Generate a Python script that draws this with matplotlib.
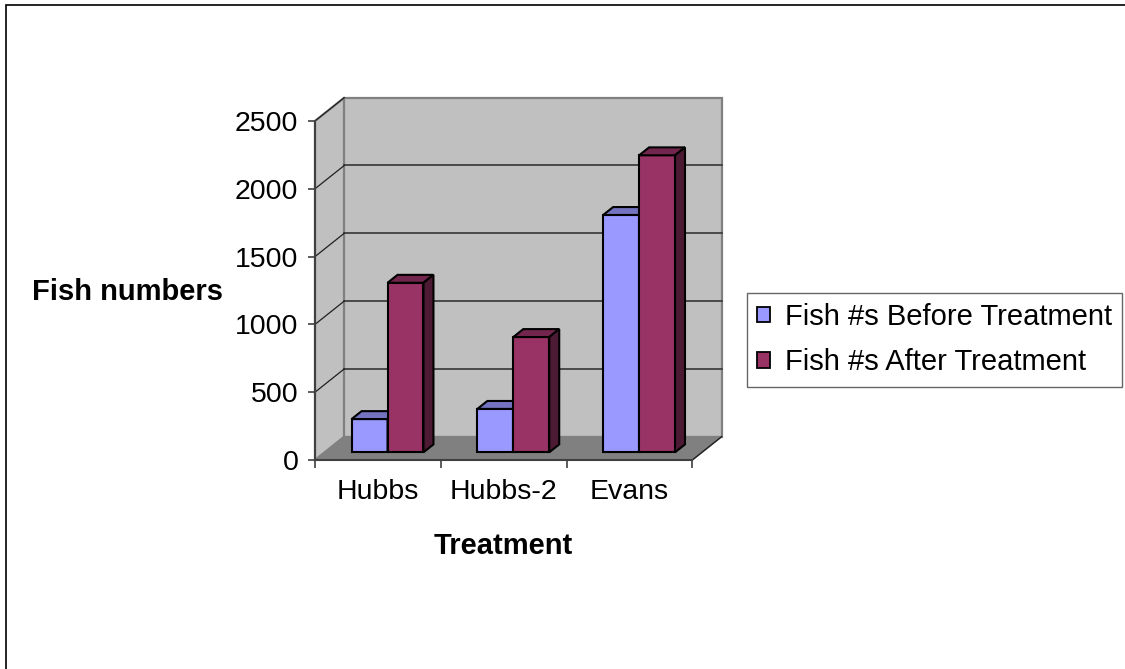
import numpy as np
import matplotlib.pyplot as plt
from matplotlib.patches import Polygon, Patch, Rectangle

plt.rcParams['font.family'] = ['Liberation Sans', 'DejaVu Sans']

# data
treatments = ['Hubbs', 'Hubbs-2', 'Evans']
before = [245, 320, 1750]
after = [1250, 850, 2190]
series_names = ['Fish #s Before Treatment', 'Fish #s After Treatment']
y_ticks = [0, 500, 1000, 1500, 2000, 2500]

# face colours: front, top, side
front_cols = ['#9999FF', '#993366']
top_cols = ['#7373BF', '#73264D']
side_cols = ['#4D4D80', '#4D1A33']

# oblique depth vector in data units (x in categories, y in values)
DX, DY = 0.233, 172.0
d0, d1 = 0.33, 0.67          # bar front/back as fraction of floor depth
bar_w = 1 / 3.5              # gap width 150%
ymax = 2500
ncat = len(treatments)
fs = 20.5

fig = plt.figure(figsize=(11.25, 6.69), dpi=100)
ax = fig.add_axes([0.2241, 0.2516, 0.4472, 0.6284])
ax.set_xlim(-0.5, 3.5)
ax.set_ylim(-300, 2800)
ax.patch.set_visible(False)

def poly(pts, fc, ec='black', lw=1.5, z=1):
    ax.add_patch(Polygon(pts, closed=True, facecolor=fc, edgecolor=ec,
                         linewidth=lw, zorder=z, joinstyle='miter'))

# walls and floor
poly([(0, 0), (DX, DY), (DX, ymax + DY), (0, ymax)], '#C0C0C0', '#808080', 1.6)
poly([(DX, DY), (ncat + DX, DY), (ncat + DX, ymax + DY), (DX, ymax + DY)],
     '#C0C0C0', '#808080', 1.6)
poly([(0, 0), (ncat, 0), (ncat + DX, DY), (DX, DY)], '#808080', '#808080', 1.0)

# gridlines on back wall and left wall
for v in y_ticks[1:-1]:
    ax.plot([DX, ncat + DX], [v + DY, v + DY], color='#404040', lw=1.3, zorder=2)
for v in y_ticks[1:]:
    ax.plot([0, DX], [v, v + DY], color='#202020', lw=0.9, zorder=2)
ax.plot([ncat, ncat + DX], [0, DY], color='#202020', lw=1.0, zorder=2)

# 3D bars
for i in range(ncat):
    for s, vals in enumerate([before, after]):
        h = vals[i]
        x0 = i + (1 - 2 * bar_w) / 2 + s * bar_w + d0 * DX
        x1 = x0 + bar_w
        yb = d0 * DY
        ddx, ddy = (d1 - d0) * DX, (d1 - d0) * DY
        poly([(x0, yb), (x1, yb), (x1, yb + h), (x0, yb + h)], front_cols[s], z=3)
        poly([(x0, yb + h), (x1, yb + h), (x1 + ddx, yb + h + ddy), (x0 + ddx, yb + h + ddy)],
             top_cols[s], z=3)
        poly([(x1, yb), (x1 + ddx, yb + ddy), (x1 + ddx, yb + h + ddy), (x1, yb + h)],
             side_cols[s], z=3)

# axes lines and ticks
for side in ['top', 'right']:
    ax.spines[side].set_visible(False)
ax.spines['left'].set_position(('data', 0))
ax.spines['left'].set_bounds(0, ymax)
ax.spines['bottom'].set_position(('data', 0))
ax.spines['bottom'].set_bounds(0, ncat)
for side in ['left', 'bottom']:
    ax.spines[side].set_color('#404040')
    ax.spines[side].set_linewidth(1.5)
    ax.spines[side].set_zorder(4)

ax.set_yticks(y_ticks)
ax.set_yticklabels([str(v) for v in y_ticks])
ax.tick_params(axis='y', length=5, width=1.2, color='#404040', pad=7,
               labelsize=fs)
ax.set_xticks(np.arange(ncat + 1))
ax.set_xticklabels([])
ax.set_xticks(np.arange(ncat) + 0.5, minor=True)
ax.set_xticklabels(treatments, minor=True)
ax.tick_params(axis='x', which='major', length=6, width=1.2, color='#404040')
ax.tick_params(axis='x', which='minor', length=0, pad=14, labelsize=fs)

# axis titles
fig.text(128 / 1125, 1 - 292 / 669, 'Fish numbers', fontsize=fs + 0.5,
         fontweight='bold', ha='center', va='center')
fig.text(503 / 1125, 1 - 546 / 669, 'Treatment', fontsize=fs + 0.5,
         fontweight='bold', ha='center', va='center')

# legend
handles = [Patch(facecolor=c, edgecolor='black', linewidth=1.3) for c in front_cols]
leg = fig.legend(handles, series_names, loc='upper left',
                 bbox_to_anchor=(746.7 / 1125, 1 - 292.7 / 669),
                 fontsize=21, frameon=True, fancybox=False, borderaxespad=0,
                 handlelength=0.45, handleheight=0.45, handletextpad=0.5,
                 borderpad=0.35, labelspacing=0.6)
leg.get_frame().set_edgecolor('#404040')
leg.get_frame().set_linewidth(1.0)

# chart border
fig.patches.append(Rectangle((6 / 1125, -0.05), 1.1, 1 - 5 / 669 + 0.05,
                             transform=fig.transFigure, fill=False,
                             edgecolor='black', linewidth=1.2))

fig.savefig('out.png', dpi=100, facecolor='white')
